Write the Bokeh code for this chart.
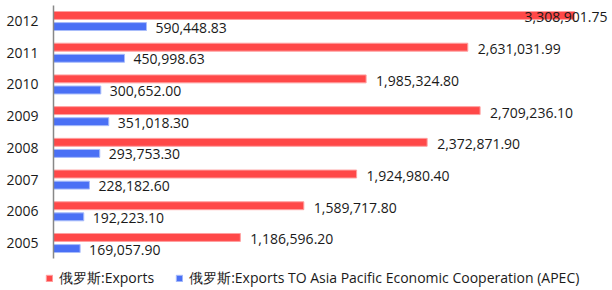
from bokeh.plotting import figure
from bokeh.models import ColumnDataSource, Range1d, FixedTicker, Legend, LegendItem
from bokeh.core.properties import value
from bokeh.embed import file_html
from bokeh.resources import INLINE

years = ["2005", "2006", "2007", "2008", "2009", "2010", "2011", "2012"]
exports = [1186596.20, 1589717.80, 1924980.40, 2372871.90, 2709236.10, 1985324.80, 2631031.99, 3308901.75]
exports_apec = [169057.90, 192223.10, 228182.60, 293753.30, 351018.30, 300652.00, 450998.63, 590448.83]
series_names = ["俄罗斯:Exports", "俄罗斯:Exports TO Asia Pacific Economic Cooperation (APEC)"]

RED = "#ff4848"
BLUE = "#4a70f5"
FONT = "Open Sans"
FS = "14px"
OFF = 0.175
H = 0.25
XMAX = 3.55e6
XMIN = -XMAX * 53 / 559

idx = list(range(len(years)))
fmt = lambda v: f"{v:,.2f}"

src_r = ColumnDataSource(dict(y=[i + OFF for i in idx], v=exports, t=[fmt(v) for v in exports]))
src_b = ColumnDataSource(dict(y=[i - OFF for i in idx], v=exports_apec, t=[fmt(v) for v in exports_apec]))

p = figure(width=612, height=290, output_backend="svg", toolbar_location=None,
           x_range=Range1d(XMIN, XMAX), y_range=Range1d(-1.498, 7.647),
           min_border_left=0, min_border_right=0, min_border_top=0, min_border_bottom=0)
p.outline_line_color = None
p.xaxis.visible = False
p.grid.visible = False
p.background_fill_color = "white"
p.border_fill_color = "white"

ya = p.yaxis[0]
ya.fixed_location = 0
ya.ticker = FixedTicker(ticks=idx)
ya.major_label_overrides = {i: y for i, y in enumerate(years)}
ya.bounds = (-0.5, 7.5)
ya.axis_line_color = "#888888"
ya.axis_line_width = 1.5
ya.major_tick_line_color = None
ya.minor_tick_line_color = None
ya.major_tick_out = 0
ya.major_tick_in = 0
ya.major_label_standoff = 15
ya.major_label_text_font = FONT
ya.major_label_text_font_size = FS
ya.major_label_text_color = "#1a1a1a"

r1 = p.hbar(y="y", left=0, right="v", height=H, source=src_r, fill_color=RED,
            line_color="#ffa0a0", line_width=1)
r2 = p.hbar(y="y", left=0, right="v", height=H, source=src_b, fill_color=BLUE,
            line_color="#a8bcfa", line_width=1)

lim = 0.85 * XMAX
src_r_in = ColumnDataSource(dict(y=[y for y, v in zip(src_r.data["y"], exports) if v <= lim],
                                 v=[v for v in exports if v <= lim],
                                 t=[fmt(v) for v in exports if v <= lim]))
src_r_out = ColumnDataSource(dict(y=[y for y, v in zip(src_r.data["y"], exports) if v > lim],
                                  v=[XMAX for v in exports if v > lim],
                                  t=[fmt(v) for v in exports if v > lim]))
common = dict(text_font=value(FONT), text_font_size=FS, text_color="#1a1a1a",
              text_baseline="middle")
p.text(x="v", y="y", text="t", source=src_r_in, x_offset=10, y_offset=2, text_align="left", **common)
p.text(x="v", y="y", text="t", source=src_r_out, x_offset=-5, y_offset=2, text_align="right", **common)
p.text(x="v", y="y", text="t", source=src_b, x_offset=9, y_offset=1, text_align="left", **common)

legend = Legend(items=[LegendItem(label=series_names[0], renderers=[r1]),
                       LegendItem(label=series_names[1], renderers=[r2])],
                orientation="horizontal", location=(45, 2))
legend.glyph_width = 8
legend.glyph_height = 8
legend.label_standoff = 6
legend.spacing = 21
legend.padding = 0
legend.margin = 0
legend.border_line_color = None
legend.background_fill_alpha = 0
legend.label_text_font = FONT
legend.label_text_font_size = FS
legend.label_text_color = "#1a1a1a"
legend.label_height = 16
p.add_layout(legend, "center")

open("out.html", "w").write(file_html(p, INLINE))
